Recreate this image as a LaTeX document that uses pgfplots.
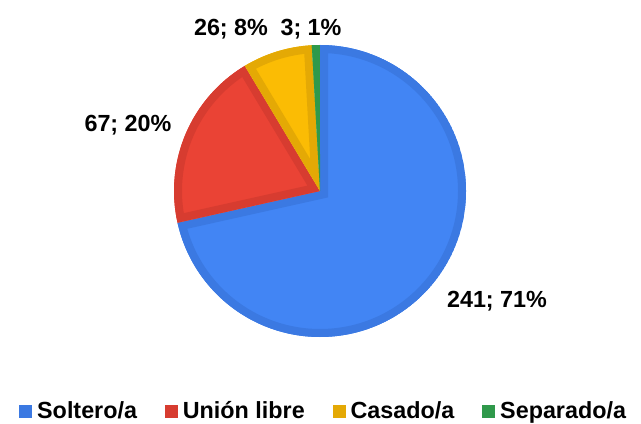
\documentclass[border=0pt]{standalone}
\usepackage{pgfplots}
\pgfplotsset{compat=1.18}
\usepackage{fontspec}
\setmainfont{Liberation Sans}
\definecolor{cblue}{HTML}{4285F4}
\definecolor{cred}{HTML}{EA4335}
\definecolor{cyel}{HTML}{FBBC04}
\definecolor{cgrn}{HTML}{34A853}
\definecolor{dblue}{HTML}{3B79E2}
\definecolor{dred}{HTML}{D73C30}
\definecolor{dyel}{HTML}{E4A905}
\definecolor{dgrn}{HTML}{2F994B}
% values: Soltero/a, Union libre, Casado/a, Separado/a
\def\vA{241}\def\vB{67}\def\vC{26}\def\vD{3}
\begin{document}
\begin{tikzpicture}
\pgfmathsetmacro\tot{\vA+\vB+\vC+\vD}
\pgfmathsetmacro\aA{90-\vA/\tot*360}
\pgfmathsetmacro\aB{\aA-\vB/\tot*360}
\pgfmathsetmacro\aC{\aB-\vC/\tot*360}
\pgfmathsetmacro\aD{\aC-\vD/\tot*360}
\begin{axis}[
  scale only axis, width=480.75pt, height=316.5pt,
  xmin=0, xmax=641, ymin=0, ymax=422,
  hide axis, clip=false,
  legend columns=4,
  legend image code/.code={\fill[#1] (0pt,-4.5pt) rectangle (9pt,4.5pt);},
  legend style={at={(axis cs:324,11)}, anchor=center, draw=none, fill=none,
    font=\fontsize{17.5}{20}\selectfont\bfseries,
    /tikz/every odd column/.append style={column sep=2pt},
    /tikz/every even column/.append style={column sep=19pt},
    inner sep=0pt},
  legend cell align=left,
]
\path (axis cs:0,0) rectangle (axis cs:641,422);
\addlegendimage{dblue}
\addlegendentry{Soltero/a}
\addlegendimage{dred}
\addlegendentry{Unión libre}
\addlegendimage{dyel}
\addlegendentry{Casado/a}
\addlegendimage{dgrn}
\addlegendentry{Separado/a}
\def\slice#1#2#3#4{%
  \begin{scope}
  \clip (axis cs:320,231) -- ++(#1:109.5pt) arc[start angle=#1, end angle=#2, radius=109.5pt] -- cycle;
  \fill[#3, draw=#4, line width=12pt, line join=miter] (axis cs:320,231) -- ++(#1:109.5pt) arc[start angle=#1, end angle=#2, radius=109.5pt] -- cycle;
  \end{scope}}
\slice{90}{\aA}{cblue}{dblue}
\slice{\aA}{\aB}{cred}{dred}
\slice{\aB}{\aC}{cyel}{dyel}
\slice{\aC}{\aD}{cgrn}{dgrn}
\path[font=\fontsize{17.5}{20}\selectfont\bfseries]
  (axis cs:497,121) node {241; 71\%}
  (axis cs:128,297) node {67; 20\%}
  (axis cs:231,393) node {26; 8\%}
  (axis cs:311,393) node {3; 1\%};
\end{axis}
\end{tikzpicture}
\end{document}
